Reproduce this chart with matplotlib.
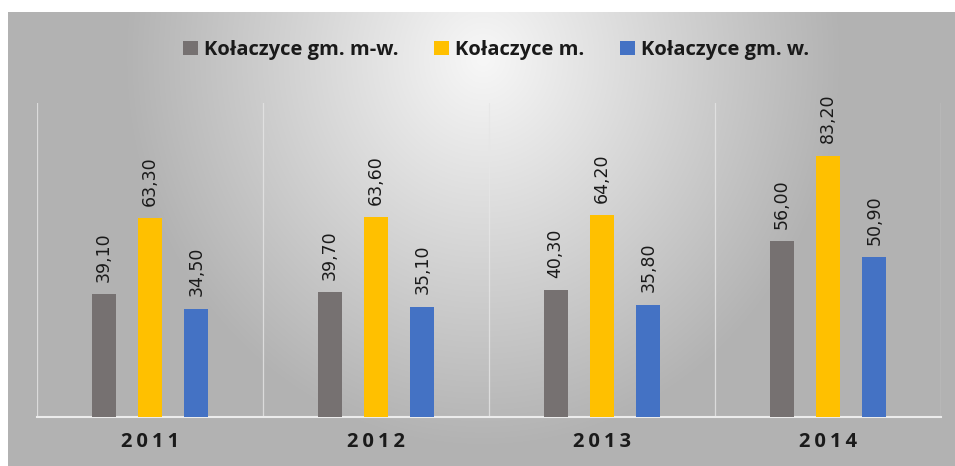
import numpy as np
import matplotlib
matplotlib.use("Agg")
import matplotlib.pyplot as plt

categories = ["2011", "2012", "2013", "2014"]
series_names = ["Kołaczyce gm. m-w.", "Kołaczyce m.", "Kołaczyce gm. w."]
gm_mw = [39.10, 39.70, 40.30, 56.00]
miasto = [63.30, 63.60, 64.20, 83.20]
gm_w = [34.50, 35.10, 35.80, 50.90]
colors = ["#767171", "#FFC000", "#4472C4"]

W, H = 955, 466
fig = plt.figure(figsize=(W / 100, H / 100), dpi=100)
fig.patch.set_facecolor("white")

# background gradient panel
bg = fig.add_axes([8 / W, 0, 1 - 8 / W, (H - 12) / H])
bg.set_axis_off()
ny, nx = 200, 400
yy, xx = np.mgrid[0:ny, 0:nx]
cx, cy = nx * 0.5, ny * 0.1
d = np.sqrt(((xx - cx) / (nx * 0.42)) ** 2 + ((yy - cy) / (ny * 0.95)) ** 2)
val = np.clip(0.97 - 0.30 * d, 0.70, 1.0)
img = np.dstack([val, val, val])
bg.imshow(img, aspect="auto", extent=[0, 1, 0, 1], interpolation="bicubic")
bg.set_xlim(0, 1)
bg.set_ylim(0, 1)

ax = fig.add_axes([37 / W, (H - 417) / H, (941 - 37) / W, (417 - 103) / H])
ax.patch.set_alpha(0)
x = np.arange(len(categories))
bw = 0.106
off = 0.205
all_series = [gm_mw, miasto, gm_w]
for i, (vals, c, name) in enumerate(zip(all_series, colors, series_names)):
    pos = x + (i - 1) * off
    ax.bar(pos, vals, width=bw, color=c, label=name, zorder=3)
    for px, v in zip(pos, vals):
        ax.annotate(f"{v:.2f}".replace(".", ","), (px, v), xytext=(0, 9),
                    textcoords="offset points", rotation=90, ha="center",
                    va="bottom", fontsize=12.5, color="#1a1a1a",
                    family="DejaVu Sans")

ax.set_xlim(-0.5, len(categories) - 0.5)
ax.set_ylim(0, 100)
for b in np.arange(-0.5, len(categories) + 0.5, 1.0):
    ax.axvline(b, color="#e6e6e6", lw=0.9, zorder=1, alpha=0.8)
for s in ["top", "left", "right"]:
    ax.spines[s].set_visible(False)
ax.spines["bottom"].set_color("#ececec")
ax.spines["bottom"].set_linewidth(1.5)
ax.set_yticks([])
ax.set_xticks(x)
ax.set_xticklabels(["\u2009".join(c) for c in categories], fontsize=14.5,
                   fontweight="bold", color="#1a1a1a",
                   family=["Open Sans", "DejaVu Sans"])
ax.tick_params(axis="x", length=0, pad=11)

leg = fig.legend(loc="center", bbox_to_anchor=(496 / W, 1 - 50 / H), ncol=3,
                 frameon=False, handlelength=0.75, handleheight=0.75,
                 handletextpad=0.3, columnspacing=1.75,
                 prop={"family": "Open Sans", "weight": "bold", "size": 14.5})
for t in leg.get_texts():
    t.set_color("#1a1a1a")

fig.savefig("out.png", dpi=100, facecolor="white")
